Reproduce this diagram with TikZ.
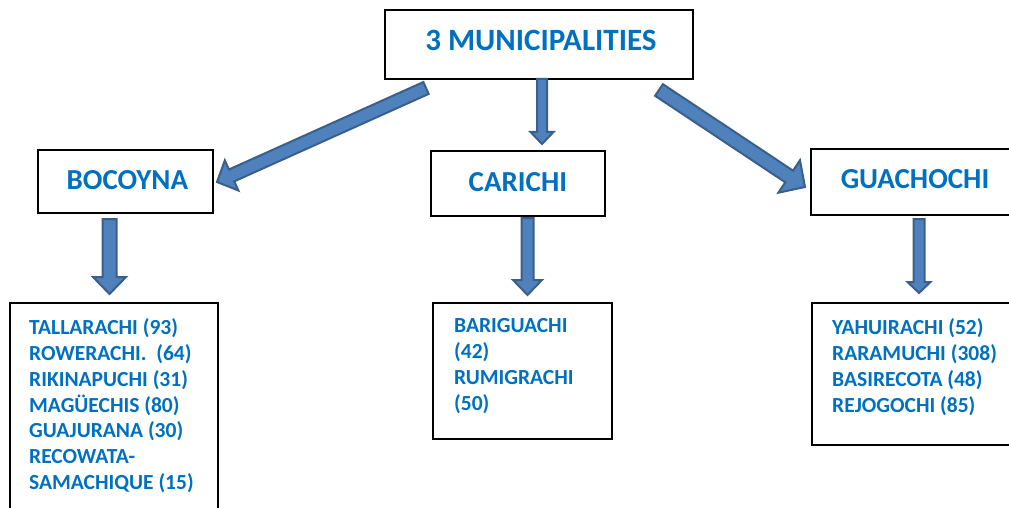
\documentclass[tikz,border=0pt]{standalone}
\usepackage{fontspec}
\setmainfont{Carlito}
\usetikzlibrary{calc}
\definecolor{txtblue}{HTML}{0070C0}
\definecolor{arrfill}{HTML}{4F81BD}
\definecolor{arrline}{HTML}{3A5F8B}
\tikzset{
  box/.style={draw=black, line width=1.8pt, fill=white, anchor=north west, inner sep=0pt},
  head/.style={font=\bfseries\fontsize{29}{34}\selectfont, text=txtblue},
  listtxt/.style={font=\bfseries\fontsize{21.5}{25.8}\selectfont, text=txtblue, align=left, anchor=north west, inner sep=0pt},
  barrowstyle/.style={fill=arrfill, draw=arrline, line width=2pt, line join=miter}
}
\newcommand{\barrow}[5]{%
  \filldraw[barrowstyle] let \p1=($(#2)-(#1)$), \n1={atan2(\y1,\x1)}, \n2={veclen(\x1,\y1)} in
  ($(#1)+(\n1+90:#3)$) -- ++(\n1:\n2-#5) -- ++(\n1+90:#4-#3) -- (#2)
  -- ($(#1)+(\n1:\n2-#5)+(\n1-90:#4)$) -- ++(\n1+90:#4-#3) -- ($(#1)+(\n1-90:#3)$) -- cycle;}
\begin{document}
\begin{tikzpicture}[x=1pt,y=-1pt]
\clip (0,0) rectangle (1009,508);
\fill[white] (0,0) rectangle (1009,508);
% boxes
\node[box, minimum width=308pt, minimum height=69pt] (top) at (384,9) {};
\node[head, font=\bfseries\fontsize{31}{36}\selectfont] (toptxt) at ($(top.center)+(2,-3.5)$) {3 MUNICIPALITIES};
\node[box, minimum width=175pt, minimum height=63pt] (boc) at (37,149) {};
\node[head] (boctxt) at ($(boc.center)+(2,-1)$) {BOCOYNA};
\node[box, minimum width=174pt, minimum height=65pt] (car) at (430,150) {};
\node[head] (cartxt) at ($(car.center)+(0,-1)$) {CARICHI};
\node[box, minimum width=210pt, minimum height=66pt] (gua) at (810,148) {};
\node[head] (guatxt) at (915,179) {GUACHOCHI};
% list boxes
\node[box, minimum width=208pt, minimum height=230pt] (bocl) at (9,302) {};
\node[listtxt] (bocltxt) at (29,318.5) {TALLARACHI (93)\\ROWERACHI.~~(64)\\RIKINAPUCHI (31)\\MAGÜECHIS (80)\\GUAJURANA (30)\\RECOWATA-\\SAMACHIQUE (15)};
\node[box, minimum width=179pt, minimum height=136pt] (carl) at (432,302) {};
\node[listtxt] (carltxt) at (454,318.5) {BARIGUACHI\\(42)\\RUMIGRACHI\\(50)};
\node[box, minimum width=210pt, minimum height=142pt] (gual) at (811,302) {};
\node[listtxt] (gualtxt) at (832,318.5) {YAHUIRACHI (52)\\RARAMUCHI (308)\\BASIRECOTA (48)\\REJOGOCHI (85)};
% arrow end points
\coordinate (c1) at (542,79);  \coordinate (c2) at (542,144);
\coordinate (l1) at (426,88);  \coordinate (l2) at (217,182);
\coordinate (r1) at (659,90);  \coordinate (r2) at (805,187);
\coordinate (b1) at (109.5,219); \coordinate (b2) at (109.5,294);
\coordinate (k1) at (527.5,218); \coordinate (k2) at (527.5,295);
\coordinate (g1) at (919,219); \coordinate (g2) at (919,293);
% arrows
\barrow{c1}{c2}{5pt}{11.5pt}{12pt}
\barrow{l1}{l2}{6.5pt}{16.5pt}{16pt}
\barrow{r1}{r2}{7pt}{19.5pt}{19pt}
\barrow{b1}{b2}{7pt}{16.5pt}{17pt}
\barrow{k1}{k2}{6pt}{14.5pt}{15pt}
\barrow{g1}{g2}{5.5pt}{11.5pt}{11pt}
\end{tikzpicture}
\end{document}
